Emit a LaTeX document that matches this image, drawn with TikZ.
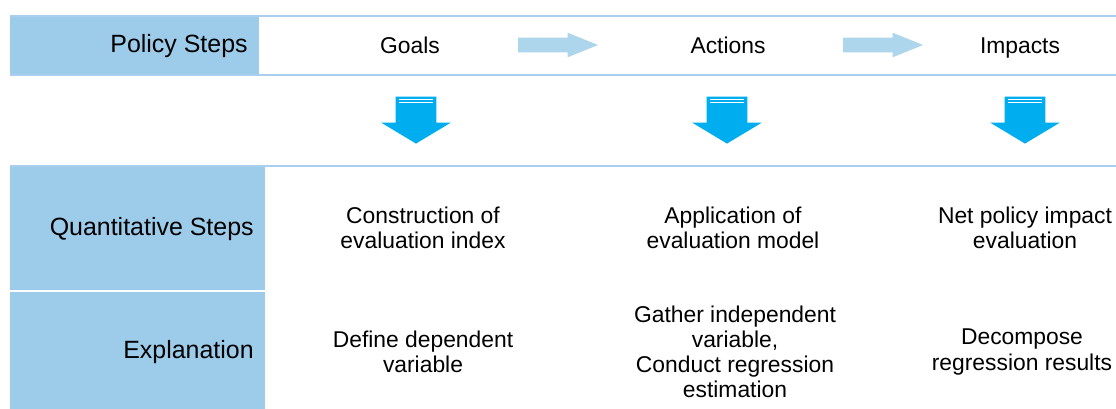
\documentclass[tikz,border=0pt]{standalone}
\usepackage{fontspec}
\setmainfont{Liberation Sans}
\definecolor{headblue}{RGB}{157,203,234}
\definecolor{ruleblue}{RGB}{168,208,238}
\definecolor{flowblue}{RGB}{173,214,236}
\definecolor{dropblue}{RGB}{0,174,239}
\usetikzlibrary{shapes.arrows}

\begin{document}
\begin{tikzpicture}[x=0.02cm, y=-0.02cm,
  txt/.style={align=center, font=\fontsize{13}{14.3}\selectfont, inner sep=0pt},
  word/.style={txt, anchor=base},
  head/.style={txt, anchor=base east, font=\fontsize{14.2}{15}\selectfont},
  rule/.style={ruleblue, line width=0.04cm},
  flow/.style={single arrow, fill=flowblue, minimum height=1.6cm, minimum width=0.48cm,
               inner xsep=0pt, inner ysep=0.14cm,
               single arrow head extend=0.1cm, single arrow tip angle=44},
  drop/.style={single arrow, fill=dropblue, shape border rotate=270, minimum height=0.9cm,
               minimum width=1.4cm, inner sep=0.34cm,
               single arrow tip angle=118}
]
\useasboundingbox (0,0) rectangle (1116,409);

% policy steps band
\fill[headblue] (10,16) rectangle (259,75);
\draw[rule] (10,16) -- (1116,16);
\draw[rule] (10,75) -- (1116,75);
\node[head] (ps) at (248,52) {Policy Steps};
\node[word] (goals) at (410,53) {Goals};
\node[word] (actions) at (728,53) {Actions};
\node[word] (impacts) at (1020,53) {Impacts};
\node[flow] (ga) at (549,45) {};
\node[flow] (ai) at (874,45) {};

% drops into the table
\foreach \x/\n in {416/d1, 727/d2, 1025/d3} {
  \node[drop] (\n) at (\x,114) {};
  \draw[white, line width=0.02cm] (\x-17,99.5) -- (\x+17,99.5);
  \draw[white, line width=0.02cm] (\x-17,102.5) -- (\x+17,102.5);
}

% quantitative table
\fill[headblue] (10,166) rectangle (265,409);
\draw[white, line width=0.05cm] (10,291) -- (265,291);
\draw[rule] (10,166) -- (1116,166);
\node[head] (qs) at (254,235) {Quantitative Steps};
\node[head] (ex) at (254,358) {Explanation};

\node[txt] (q1) at (423,228) {Construction of\\evaluation index};
\node[txt] (q2) at (733,228) {Application of\\evaluation model};
\node[txt] (q3) at (1025,228) {Net policy impact\\evaluation};
\node[txt] (e1) at (423,352) {Define dependent\\variable};
\node[txt] (e2) at (735,352) {Gather independent\\variable,\\Conduct regression\\estimation};
\node[txt] (e3) at (1022,352) {Decompose\\regression results};
\end{tikzpicture}
\end{document}
